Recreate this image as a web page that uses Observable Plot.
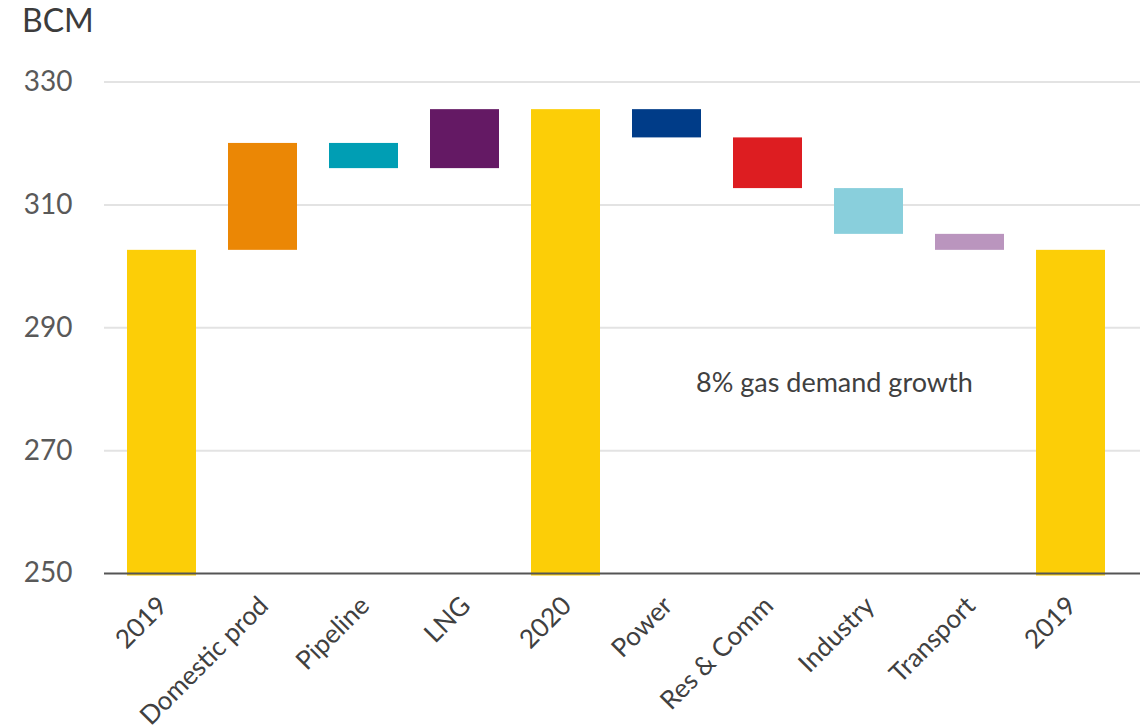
<!DOCTYPE html>
<html>
<head>
<meta charset="utf-8">
<script src="https://cdn.jsdelivr.net/npm/d3@7"></script>
<script src="https://cdn.jsdelivr.net/npm/@observablehq/plot@0.6"></script>
<style>
  html, body { margin: 0; padding: 0; background: #fff; }
  #wrap { position: relative; width: 1145px; height: 726px; font-family: Lato, "Noto Sans", sans-serif; }
  #unit { position: absolute; left: 22px; top: 0px; font-size: 32px; color: #3c3c3c; line-height: 40px; }
</style>
</head>
<body>
<div id="wrap"><div id="unit">BCM</div></div>
<script>
const categories = ["2019", "Domestic prod", "Pipeline", "LNG", "2020", "Power", "Res & Comm", "Industry", "Transport", "2019"];
const barBottom = [250, 302.6, 315.9, 315.9, 250, 320.9, 312.65, 305.2, 302.6, 250];
const barTop = [302.6, 320.0, 320.0, 325.5, 325.5, 325.5, 320.9, 312.65, 305.2, 302.6];
const isTotal = [true, false, false, false, true, false, false, false, false, true];
const colors = ["#FCCE07", "#EB8705", "#009EB4", "#641964", "#FCCE07", "#003C88", "#DD1D21", "#89CFDC", "#BA95BE", "#FCCE07"];
const yTicks = [250, 270, 290, 310, 330];
const gridTicks = [270, 290, 310, 330];
const annotation = "8% gas demand growth";

const rows = categories.map((c, i) => ({i, label: c, y1: barBottom[i], y2: barTop[i], total: isTotal[i], color: colors[i]}));

const chart = Plot.plot({
  width: 1145,
  height: 726,
  marginLeft: 104,
  marginRight: 5,
  marginTop: 81.5,
  marginBottom: 153,
  style: {fontFamily: "Lato, 'Noto Sans', sans-serif", background: "#fff"},
  x: {type: "band", domain: d3.range(categories.length), range: [108, 1124], paddingInner: 0.32, paddingOuter: 0.173, axis: null},
  y: {domain: [250, 330], ticks: yTicks, label: null},
  marks: [
    Plot.ruleY(gridTicks, {stroke: "#e3e3e3", strokeWidth: 2}),
    Plot.barY(rows.filter(d => d.total), {x: "i", y1: "y1", y2: "y2", fill: "color", insetBottom: -2.5}),
    Plot.barY(rows.filter(d => !d.total), {x: "i", y1: "y1", y2: "y2", fill: "color"}),
    Plot.ruleY([250], {stroke: "#555", strokeWidth: 2}),
    Plot.axisY({ticks: yTicks, tickSize: 0, tickPadding: 32, fontSize: 28, fill: "#595959", label: null, tickFormat: d => String(d)}),
    Plot.text(rows, {x: "i", text: "label", frameAnchor: "bottom", rotate: -45, textAnchor: "end", lineAnchor: "middle", dx: 1, dy: 28, fontSize: 26, fill: "#404040"}),
    Plot.text([annotation], {x: () => 5, y: () => 281, text: d => d, textAnchor: "start", lineAnchor: "middle", dx: 29, fontSize: 27, fill: "#404040"})
  ]
});
document.getElementById("wrap").appendChild(chart);
chart.style.position = "absolute";
chart.style.left = "0px";
chart.style.top = "0px";
document.getElementById("unit").style.zIndex = 2;
</script>
</body>
</html>
